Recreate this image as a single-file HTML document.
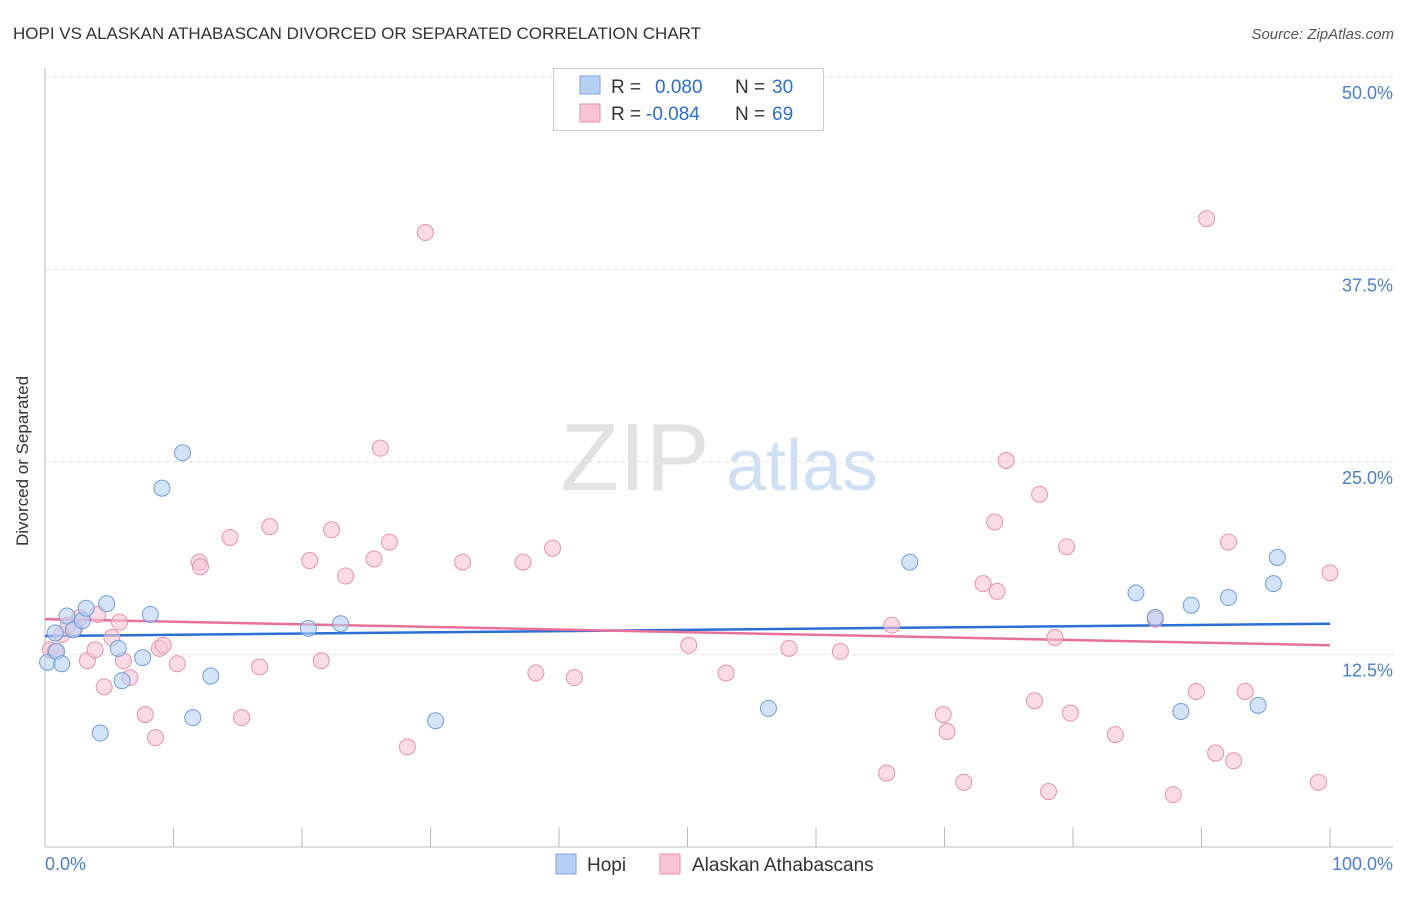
<!DOCTYPE html>
<html><head><meta charset="utf-8"><style>
body{margin:0;background:#fff;font-family:"Liberation Sans",sans-serif;}
svg text{font-family:"Liberation Sans",sans-serif;}
</style></head><body>
<svg width="1406" height="892" viewBox="0 0 1406 892" xmlns="http://www.w3.org/2000/svg">
<text x="13" y="39" font-size="17" fill="#333">HOPI VS ALASKAN ATHABASCAN DIVORCED OR SEPARATED CORRELATION CHART</text>
<text x="1394" y="39" font-size="15" fill="#555" font-style="italic" text-anchor="end">Source: ZipAtlas.com</text>
<g>
<text x="635" y="490" font-size="96" fill="#e2e2e2" font-family="Liberation Serif,serif" text-anchor="middle">ZIP</text>
<text x="802" y="490" font-size="72" fill="#cfe0f5" text-anchor="middle">atlas</text>
</g>
<g id="grid"></g>
<line x1="45" y1="68" x2="45" y2="847" stroke="#bbb"/>
<line x1="45" y1="847" x2="1393" y2="847" stroke="#bbb"/>
<g id="xticks"></g>
<text x="23" y="456" font-size="17" fill="#333" transform="rotate(-90 28 456)" text-anchor="middle">Divorced or Separated</text>
<text x="45" y="870" font-size="18" fill="#4a7fd4">0.0%</text>
<text x="1393" y="870" font-size="18" fill="#4a7fd4" text-anchor="end">100.0%</text>
<g id="lines"></g>
<g id="dots"></g>
<g>
<rect x="553.5" y="68.5" width="270" height="62" fill="#fff" stroke="#ccc"/>
<rect x="580" y="76" width="20" height="18" fill="#b5d0f3" stroke="#7aa6e0"/>
<rect x="580" y="104" width="20" height="18" fill="#f8c3d3" stroke="#e892ad"/>
<text x="611" y="93" font-size="19" fill="#333">R = <tspan fill="#2a6fd6" x="655">0.080</tspan><tspan fill="#333" x="735">N = </tspan><tspan fill="#2a6fd6" x="772">30</tspan></text>
<text x="611" y="120" font-size="19" fill="#333">R = <tspan fill="#2a6fd6" x="646">-0.084</tspan><tspan fill="#333" x="735">N = </tspan><tspan fill="#2a6fd6" x="772">69</tspan></text>
</g>
<g>
<rect x="556" y="854" width="20" height="20" fill="#b5d0f3" stroke="#7aa6e0"/>
<text x="587" y="871" font-size="19" fill="#333">Hopi</text>
<rect x="660" y="854" width="20" height="20" fill="#f8c3d3" stroke="#e892ad"/>
<text x="692" y="871" font-size="19" fill="#333">Alaskan Athabascans</text>
</g>
</svg>
<script>
const yTicks=[12.5,25,37.5,50];
const yTickLabels=["12.5%","25.0%","37.5%","50.0%"];
const hopiX=[0.2,0.8,0.9,1.3,1.7,2.2,2.9,3.2,4.3,4.8,5.7,6.0,7.6,8.2,9.1,10.7,11.5,12.9,20.5,23.0,30.4,56.3,67.3,84.9,86.4,88.4,89.2,92.1,94.4,95.6,95.9];
const hopiY=[12.0,13.9,12.7,11.9,15.0,14.1,14.7,15.5,7.4,15.8,12.9,10.8,12.3,15.1,23.3,25.6,8.4,11.1,14.2,14.5,8.2,9.0,18.5,16.5,14.9,8.8,15.7,16.2,9.2,17.1,18.8];
const athX=[0.4,0.8,1.3,1.8,2.3,2.7,3.3,3.9,4.1,4.6,5.2,5.8,6.1,6.6,7.8,8.6,8.9,9.2,10.3,12.0,12.1,14.4,15.3,16.7,17.5,20.6,21.5,22.3,23.4,25.6,26.1,26.8,28.2,29.6,32.5,37.2,38.2,39.5,41.2,50.1,53.0,57.9,61.9,65.5,65.9,69.9,70.2,71.5,73.0,73.9,74.1,74.8,77.0,77.4,78.1,78.6,79.5,79.8,83.3,86.4,87.8,89.6,90.4,91.1,92.1,92.5,93.4,99.1,100];
const athY=[12.8,12.7,13.8,14.4,14.2,14.9,12.1,12.8,15.1,10.4,13.6,14.6,12.1,11.0,8.6,7.1,12.9,13.1,11.9,18.5,18.2,20.1,8.4,11.7,20.8,18.6,12.1,20.6,17.6,18.7,25.9,19.8,6.5,39.9,18.5,18.5,11.3,19.4,11.0,13.1,11.3,12.9,12.7,4.8,14.4,8.6,7.5,4.2,17.1,21.1,16.6,25.1,9.5,22.9,3.6,13.6,19.5,8.7,7.3,14.8,3.4,10.1,40.8,6.1,19.8,5.6,10.1,4.2,17.8];
const hopiTrend=[13.7,14.5];
const athTrend=[14.8,13.1];
const NS="http://www.w3.org/2000/svg";
const xs=v=>45+v*12.85;
const ys=v=>847-v*15.4;
function mk(t,a,p){const e=document.createElementNS(NS,t);for(const k in a)e.setAttribute(k,a[k]);p.appendChild(e);return e;}
const grid=document.getElementById('grid');
yTicks.forEach((t,i)=>{
 const l=mk('line',{x1:45,x2:1393,y1:ys(t),y2:ys(t),stroke:'#ddd','stroke-dasharray':'4 4'},grid);
 
 
 const tx=mk('text',{x:1393,y:ys(t)+22,'font-size':18,fill:'#4a7fd4','text-anchor':'end'},grid);
 tx.textContent=yTickLabels[i];
 
 
});
const xt=document.getElementById('xticks');
for(let i=1;i<=10;i++){
 const l=mk('line',{x1:xs(i*10),x2:xs(i*10),y1:827,y2:847,stroke:'#bbb'},xt);
 
 
}
const dots=document.getElementById('dots');
athX.forEach((x,i)=>{
 const c=mk('circle',{cx:xs(x),cy:ys(athY[i]),r:8,fill:'#f8c3d3','fill-opacity':0.6,stroke:'#e892ad','stroke-width':1},dots);
 
 
});
hopiX.forEach((x,i)=>{
 const c=mk('circle',{cx:xs(x),cy:ys(hopiY[i]),r:8,fill:'#b5d0f3','fill-opacity':0.6,stroke:'#6f9fdc','stroke-width':1},dots);
 
 
});
const lines=document.getElementById('lines');
const l1=mk('line',{x1:xs(0),x2:xs(100),y1:ys(hopiTrend[0]),y2:ys(hopiTrend[1]),stroke:'#2a6fd6','stroke-width':2.5},lines);


const l2=mk('line',{x1:xs(0),x2:xs(100),y1:ys(athTrend[0]),y2:ys(athTrend[1]),stroke:'#e8709a','stroke-width':2.5},lines);


</script>
</body></html>
